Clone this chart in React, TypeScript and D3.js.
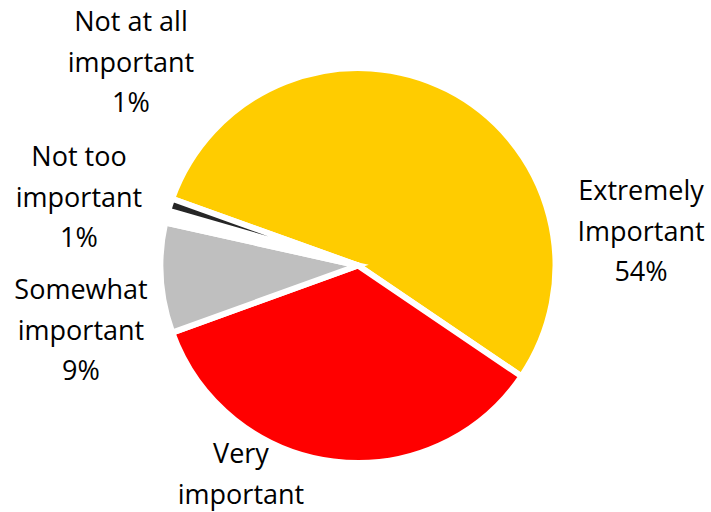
import React from "react";
import * as d3 from "d3";

const categories = [
  "Extremely Important",
  "Very important",
  "Somewhat important",
  "Not too important",
  "Not at all important",
];
const values = [54, 35, 9, 1, 1];
const percentLabels = ["54%", "35%", "9%", "1%", "1%"];
const labelLines = [
  ["Extremely", "Important"],
  ["Very", "important"],
  ["Somewhat", "important"],
  ["Not too", "important"],
  ["Not at all", "important"],
];
const colors = ["#FFCC00", "#FF0000", "#BFBFBF", "#FFFFFF", "#262626"];

// layout
const W = 711;
const H = 512;
const CX = 358;
const CY = 265.5;
const R = 197.5;
const START_DEG = 289.75;
const LINE_H = 40.5;
const FONT_SIZE = 27;
// first-line baseline position for each label
const labelAnchors: [number, number][] = [
  [641, 200],
  [241, 463],
  [81, 299],
  [79, 166],
  [131, 31],
];

export default function App() {
  const start = (START_DEG * Math.PI) / 180;
  const pie = d3
    .pie<number>()
    .sort(null)
    .value((d) => d)
    .startAngle(start)
    .endAngle(start + 2 * Math.PI);
  const arcs = pie(values);
  const arc = d3.arc<d3.PieArcDatum<number>>().innerRadius(0).outerRadius(R);

  return (
    <svg
      width={W}
      height={H}
      viewBox={`0 0 ${W} ${H}`}
      style={{ position: "absolute", left: 0, top: 0, background: "#fff" }}
    >
      <g transform={`translate(${CX},${CY})`}>
        {arcs.map((a, i) => (
          <path
            key={categories[i]}
            d={arc(a) || ""}
            fill={colors[i]}
            stroke="#FFFFFF"
            strokeWidth={6}
            strokeLinejoin="miter"
          />
        ))}
      </g>
      {categories.map((c, i) => {
        const [x, y] = labelAnchors[i];
        const lines = [...labelLines[i], percentLabels[i]];
        return (
          <text
            key={c}
            x={x}
            y={y}
            textAnchor="middle"
            fontFamily="'Open Sans', sans-serif"
            fontSize={FONT_SIZE}
            fill="#000"
          >
            {lines.map((l, j) => (
              <tspan key={j} x={x} y={y + j * LINE_H}>
                {l}
              </tspan>
            ))}
          </text>
        );
      })}
    </svg>
  );
}
